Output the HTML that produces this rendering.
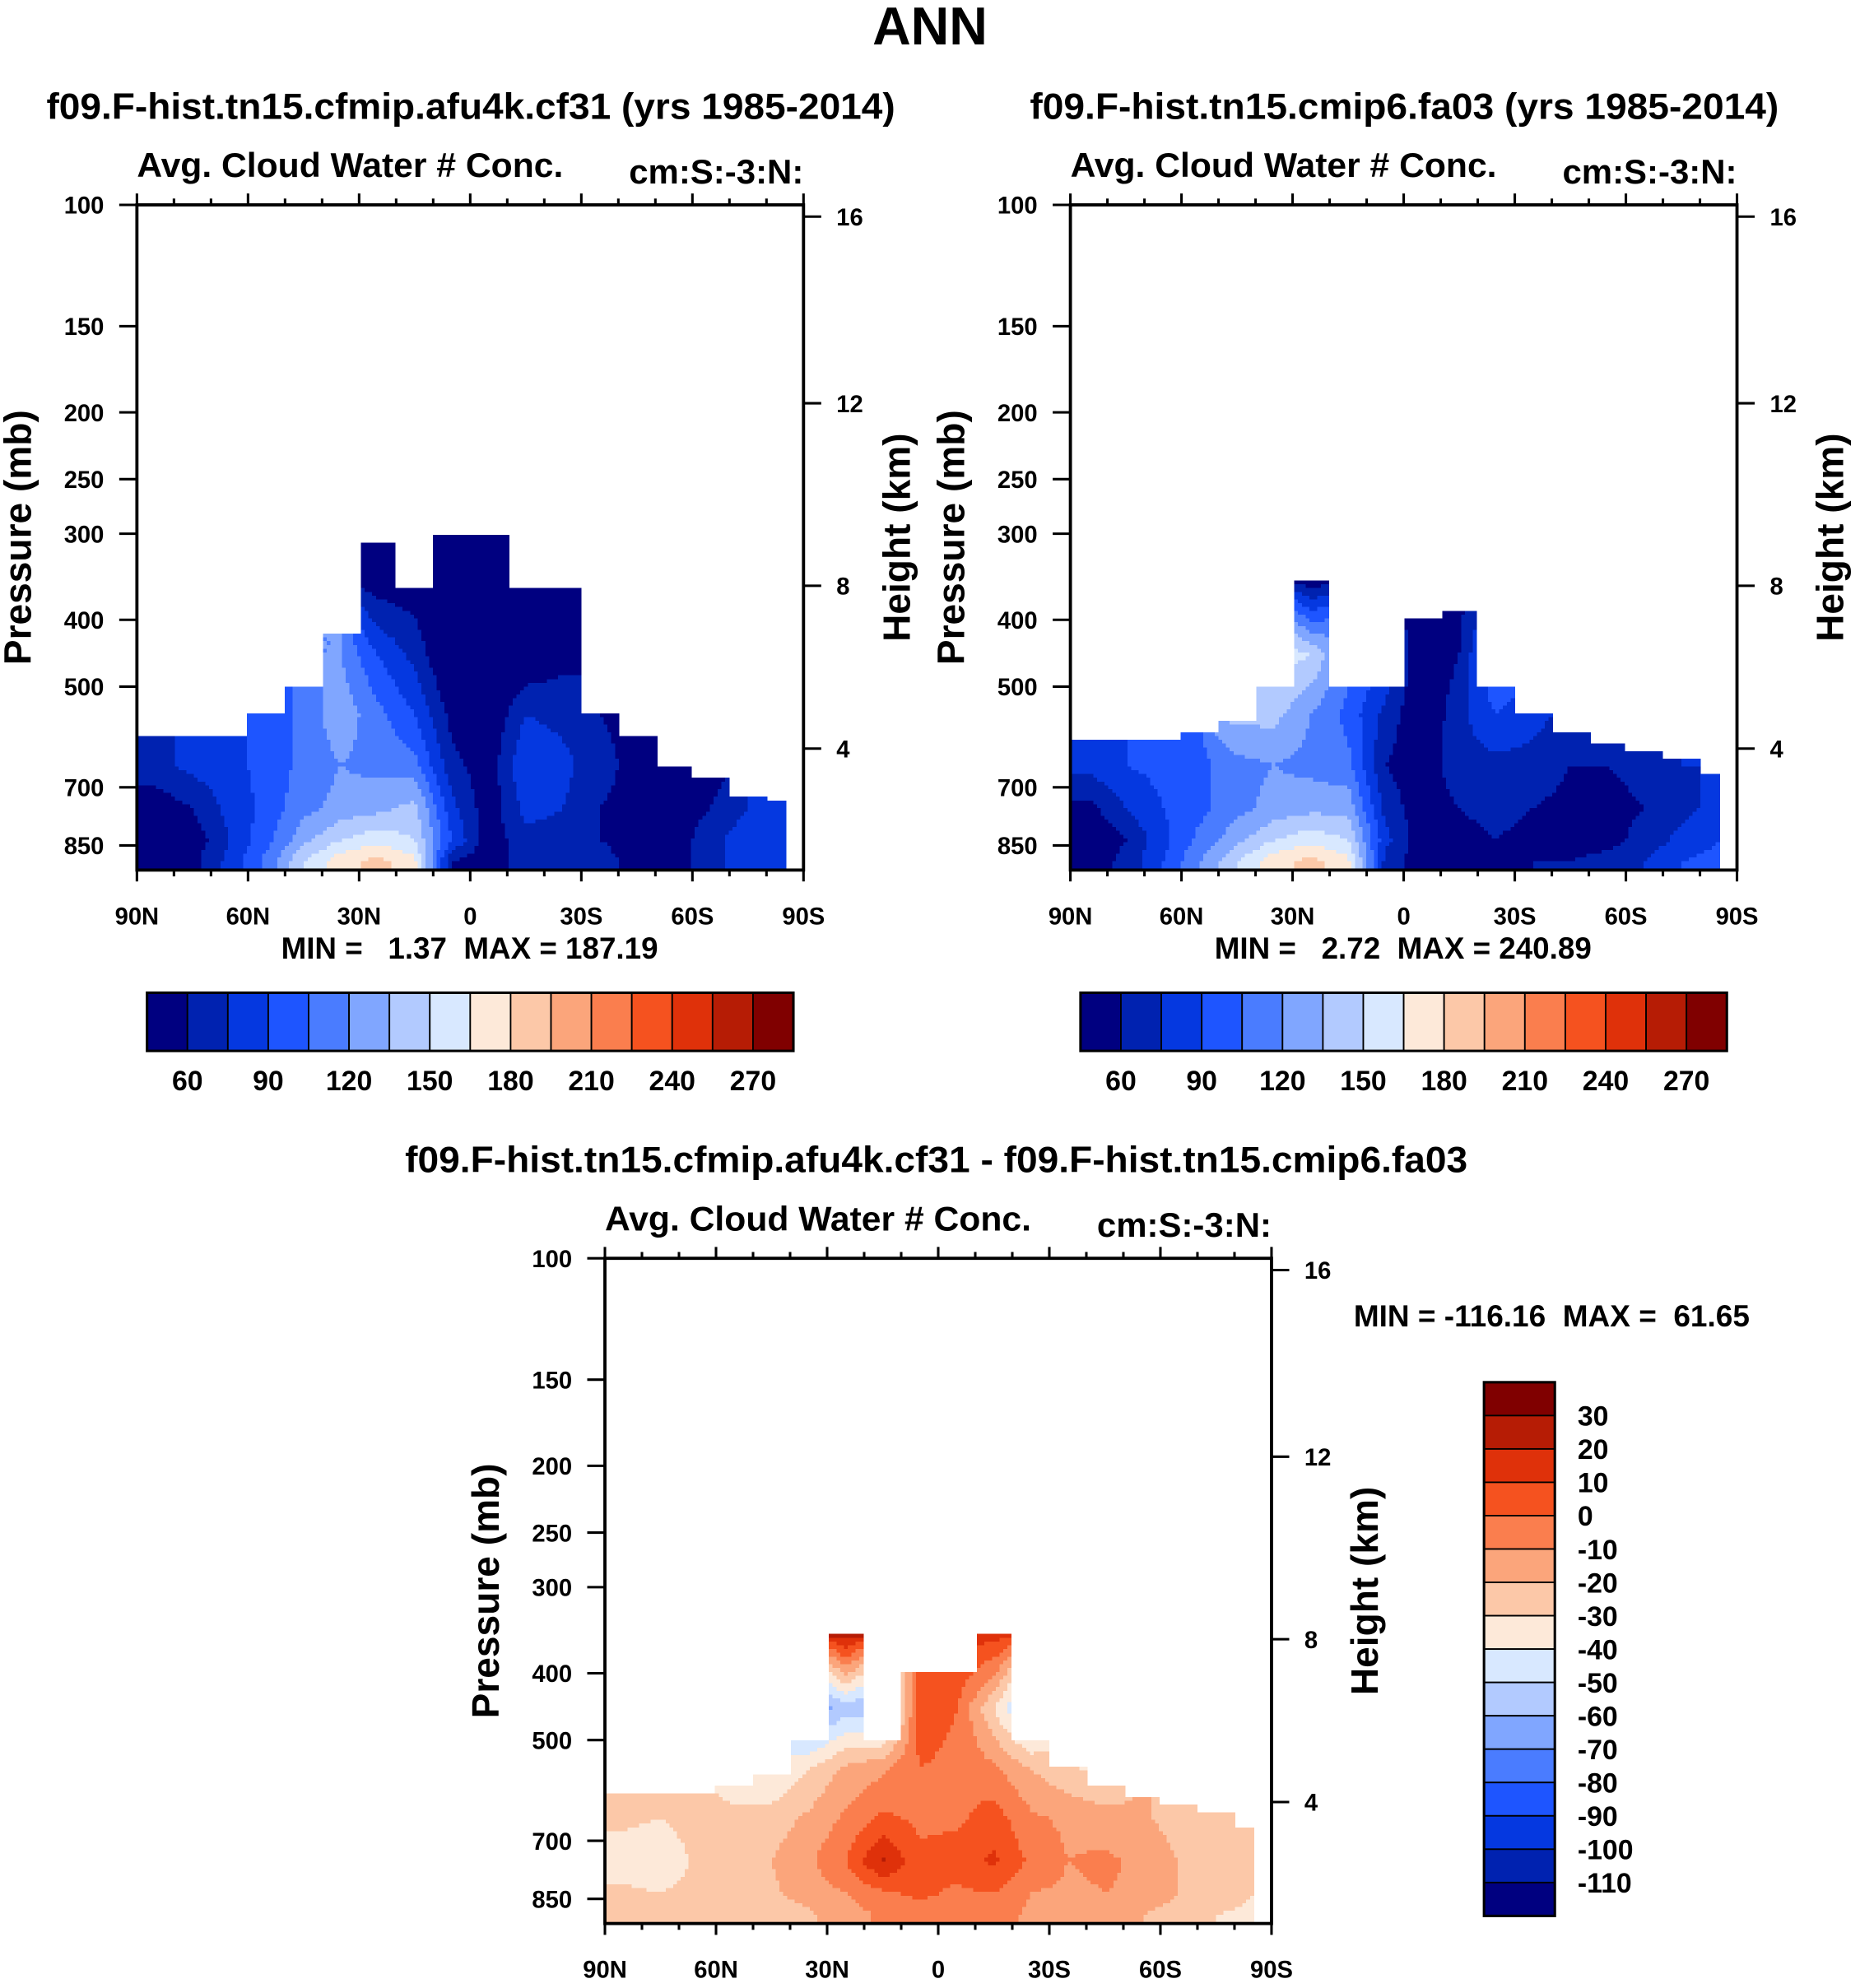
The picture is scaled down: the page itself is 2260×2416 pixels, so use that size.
<!DOCTYPE html>
<html><head><meta charset="utf-8"><style>
html,body{margin:0;padding:0;background:#fff}
svg{display:block}
text{font-family:"Liberation Sans",Arial,sans-serif;font-weight:bold;fill:#000;white-space:pre}
</style></head><body>
<svg id="fig" xmlns="http://www.w3.org/2000/svg" width="2260" height="2416" viewBox="0 0 1470 1572">
<text x="735" y="35" font-size="42" text-anchor="middle">ANN</text>
<text x="372" y="94" font-size="29" text-anchor="middle" textLength="671" lengthAdjust="spacingAndGlyphs">f09.F-hist.tn15.cfmip.afu4k.cf31 (yrs 1985-2014)</text>
<text x="1110" y="94" font-size="29" text-anchor="middle" textLength="592" lengthAdjust="spacingAndGlyphs">f09.F-hist.tn15.cmip6.fa03 (yrs 1985-2014)</text>
<text x="740" y="927" font-size="29" text-anchor="middle" textLength="840" lengthAdjust="spacingAndGlyphs">f09.F-hist.tn15.cfmip.afu4k.cf31 - f09.F-hist.tn15.cmip6.fa03</text>
<g id="layer"></g>
</svg>
<script>
const n = null;
// latitude bin centers (deg, + = N)
const latCenters = [85,75,65,55,45,35,25,15,5,-5,-15,-25,-35,-45,-55,-65,-75,-85];
// pressure row boundaries (mb) and centers
const rowBounds = [300,400,500,600,700,800,870,923];
const rowCenters = [350,450,550,650,750,835,897];
// top of data (mb) per latitude bin
const topsLeft = [590,590,590,545,500,420,310,360,300,300,360,360,545,590,650,680,720,730];
const topsRight = [600,600,600,585,560,500,350,500,500,400,390,500,545,580,605,620,640,670];
const topsDiff = [600,600,600,585,560,500,350,500,400,400,350,500,545,580,605,620,640,670];
// values [lat bin][row]
const valsLeft = [
[n,n,n,70,50,45,50],[n,n,n,80,60,50,55],[n,n,n,85,80,75,80],[n,n,90,95,95,100,110],
[n,n,110,110,115,130,150],[n,120,130,120,125,150,175],[50,90,110,115,130,160,185],
[50,70,90,110,140,150,170],[40,40,55,65,80,90,60],[40,40,45,50,50,50,50],
[45,45,75,90,80,70,70],[45,55,70,80,75,70,70],[n,n,60,65,60,60,65],[n,n,55,55,55,55,55],
[n,n,n,50,50,50,50],[n,n,n,55,60,70,70],[n,n,n,n,75,85,85],[n,n,n,n,80,90,90]];
const valsRight = [
[n,n,n,80,55,45,50],[n,n,n,90,75,60,65],[n,n,n,95,90,85,90],[n,n,n,100,100,110,120],
[n,n,140,115,115,130,150],[n,160,140,120,125,150,175],[50,150,120,115,130,160,185],
[n,110,100,110,130,150,170],[n,90,70,60,70,80,70],[45,45,45,50,50,50,50],
[55,60,70,70,60,55,55],[n,110,90,70,65,60,55],[n,n,80,70,60,55,60],[n,n,70,60,55,55,60],
[n,n,n,60,55,55,65],[n,n,n,65,60,65,75],[n,n,n,75,70,80,90],[n,n,n,n,80,90,95]];
const valsDiff = [
[n,n,n,-28,-35,-28,-26],[n,n,n,-30,-38,-30,-25],[n,n,n,-25,-28,-26,-24],[n,n,-38,-27,-23,-22,-25],
[n,n,-42,-25,-20,-22,-28],[n,-70,-30,-18,-12,-15,-22],[25,-55,-18,-8,0,-10,-15],
[n,-60,-12,2,22,-2,-8],[n,5,0,-2,2,2,-5],[15,0,-2,-2,5,-2,-5],[15,-30,-8,5,12,0,-5],
[n,-60,-20,-8,-2,-10,-12],[n,n,-28,-12,-10,-12,-15],[n,n,-35,-15,-8,-10,-15],
[n,n,n,-18,-12,-12,-20],[n,n,n,-25,-20,-20,-25],[n,n,n,-30,-25,-25,-30],[n,n,n,n,-30,-30,-32]];
const pLabels = [100,150,200,250,300,400,500,700,850];
const hLabels = [4,8,12,16];
const hPress = [615,357,194,104];
const latTickLabels = ['90N','60N','30N','0','30S','60S','90S'];
const absLevels = [60,75,90,105,120,135,150,165,180,195,210,225,240,255,270];
const absLabels = ['60','90','120','150','180','210','240','270'];
const diffLevels = [-110,-100,-90,-80,-70,-60,-50,-40,-30,-20,-10,0,10,20,30];
const colors = ['#000080','#0022b0','#0538e0','#1e55ff','#4a7cff','#80a6ff','#b2caff','#d8e8ff',
'#fde9d9','#fcc8a8','#fba57b','#fa7e4e','#f5521f','#df310a','#b61c05','#800000'];

const NS='http://www.w3.org/2000/svg';
const layer=document.getElementById('layer');
function el(tag,attrs,parent,txt){const e=document.createElementNS(NS,tag);for(const k in attrs)e.setAttribute(k,attrs[k]);if(txt!==undefined)e.textContent=txt;(parent||layer).appendChild(e);return e;}
function colorIdx(v,levels){let i=0;while(i<levels.length&&v>=levels[i])i++;return i;}

function panel(name,x0,y0,vals,tops,levels,latMin){
  const W=527,H=526,PX=545;
  const xS=lat=>x0+(90-lat)/180*W;
  const yS=p=>y0+Math.log10(p/100)*PX;
  const g=el('g',{});
  
  
  const field=el('g',{'shape-rendering':'crispEdges'},g);
  
  
  const rl=rowCenters.map(p=>Math.log(p));
  function val(lat,p){
    let fi=(85-lat)/10;fi=Math.max(0,Math.min(17,fi));
    const lp=Math.log(p);let fj;
    if(lp<=rl[0])fj=0;else if(lp>=rl[6])fj=6;else{let k=0;while(rl[k+1]<lp)k++;fj=k+(lp-rl[k])/(rl[k+1]-rl[k]);}
    const i0=Math.floor(fi),i1=Math.min(17,i0+1),j0=Math.floor(fj),j1=Math.min(6,j0+1);
    const a=fi-i0,b=fj-j0;let s=0,w=0;
    const pts=[[i0,j0,(1-a)*(1-b)],[i1,j0,a*(1-b)],[i0,j1,(1-a)*b],[i1,j1,a*b]];
    for(const [i,j,ww] of pts){const v=vals[i][j];if(v!==null&&ww>0){s+=v*ww;w+=ww;}}
    if(w>0)return s/w;
    const ni=Math.round(fi);for(let j=6;j>=0;j--){if(vals[ni][j]!==null)return vals[ni][j];}
    return null;
  }
  const step=3;
  for(let y=y0;y<y0+H;y+=step){
    const p=100*Math.pow(10,(y+step/2-y0)/PX);
    let runStart=null,runC=null;
    const flush=(xe)=>{if(runC!==null){el('rect',{x:runStart,y:y,width:xe-runStart+0.5,height:Math.min(step+0.5,y0+H-y),fill:runC},field);}};
    for(let x=x0;x<x0+W;x+=step){
      const lat=90-(x+step/2-x0)/W*180;
      let c=null;
      if(lat>=latMin){
        const bi=Math.min(17,Math.max(0,Math.floor((90-lat)/10)));
        if(p>=tops[bi]){const v=val(lat,p);if(v!==null)c=colors[colorIdx(v,levels)];}
      }
      if(c!==runC){flush(x);runStart=x;runC=c;}
    }
    flush(x0+W);
  }
  const fr=el('rect',{x:x0,y:y0,width:W,height:H,fill:'none',stroke:'#000','stroke-width':2.5},g);
  
  
  for(let lat=90;lat>=-90;lat-=10){
    const x=xS(lat),major=(lat%30===0),len=major?9:5;
    el('line',{x1:x,y1:y0,x2:x,y2:y0-len,stroke:'#000','stroke-width':2},g);
    el('line',{x1:x,y1:y0+H,x2:x,y2:y0+H+len,stroke:'#000','stroke-width':2},g);
  }
  latTickLabels.forEach((t,i)=>{
    const tl=el('text',{x:xS(90-30*i),y:y0+H+43,'font-size':19,'text-anchor':'middle'},g,t);
    
    
  });
  pLabels.forEach(p=>{
    const y=yS(p);
    el('line',{x1:x0,y1:y,x2:x0-14,y2:y,stroke:'#000','stroke-width':2},g);
    const tl=el('text',{x:x0-26,y:y+7,'font-size':19,'text-anchor':'end'},g,String(p));
    
    
  });
  hLabels.forEach((h,i)=>{
    const y=yS(hPress[i]);
    el('line',{x1:x0+W,y1:y,x2:x0+W+14,y2:y,stroke:'#000','stroke-width':2},g);
    const tl=el('text',{x:x0+W+26,y:y+7,'font-size':19},g,String(h));
    
    
  });
  const t1=el('text',{x:x0,y:y0-22,'font-size':27,textLength:337,lengthAdjust:'spacingAndGlyphs'},g,'Avg. Cloud Water # Conc.');
  
  
  const t2=el('text',{x:x0+W-138,y:y0-17,'font-size':27,textLength:138,lengthAdjust:'spacingAndGlyphs'},g,'cm:S:-3:N:');
  
  
  const cy=y0+H/2;
  const ya=el('text',{x:0,y:0,'font-size':30,'text-anchor':'middle',transform:`translate(${x0-84},${cy}) rotate(-90)`},g,'Pressure (mb)');
  
  
  const ha=el('text',{x:0,y:0,'font-size':30,'text-anchor':'middle',transform:`translate(${x0+W+84},${cy}) rotate(-90)`},g,'Height (km)');
  
  
}

function hColorbar(name,x0,y0){
  const g=el('g',{});
  
  
  const bw=511/16;
  for(let i=0;i<16;i++){
    const r=el('rect',{x:x0+i*bw,y:y0,width:bw,height:46,fill:colors[i],stroke:'#000','stroke-width':1.2},g);
    
    
  }
  el('rect',{x:x0,y:y0,width:511,height:46,fill:'none',stroke:'#000','stroke-width':2},g);
  absLabels.forEach((t,i)=>{
    const tl=el('text',{x:x0+bw*(1+2*i),y:y0+77,'font-size':22,'text-anchor':'middle'},g,t);
    
    
  });
}

panel('left',108,162,valsLeft,topsLeft,absLevels,-85);
panel('right',846,162,valsRight,topsRight,absLevels,-85);
panel('diff',478,995,valsDiff,topsDiff,diffLevels,-85);
hColorbar('left',116,785);
hColorbar('right',854,785);

const s1=el('text',{x:222,y:758,'font-size':24,textLength:298,lengthAdjust:'spacingAndGlyphs'},null,'MIN =   1.37  MAX = 187.19');


const s2=el('text',{x:960,y:758,'font-size':24,textLength:298,lengthAdjust:'spacingAndGlyphs'},null,'MIN =   2.72  MAX = 240.89');


const s3=el('text',{x:1070,y:1049,'font-size':24,textLength:313,lengthAdjust:'spacingAndGlyphs'},null,'MIN = -116.16  MAX =  61.65');



(function(){
  const g=el('g',{});
  
  
  const x0=1173,y0=1093,h=422,bh=h/16;
  for(let i=0;i<16;i++){
    const r=el('rect',{x:x0,y:y0+i*bh,width:56,height:bh,fill:colors[15-i],stroke:'#000','stroke-width':1.2},g);
    
    
  }
  el('rect',{x:x0,y:y0,width:56,height:h,fill:'none',stroke:'#000','stroke-width':2},g);
  for(let i=0;i<diffLevels.length;i++){
    const lv=diffLevels[diffLevels.length-1-i];
    const tl=el('text',{x:1247,y:y0+bh*(i+1)+8,'font-size':22},g,String(lv));
    
    
  }
})();
</script>
</body></html>
